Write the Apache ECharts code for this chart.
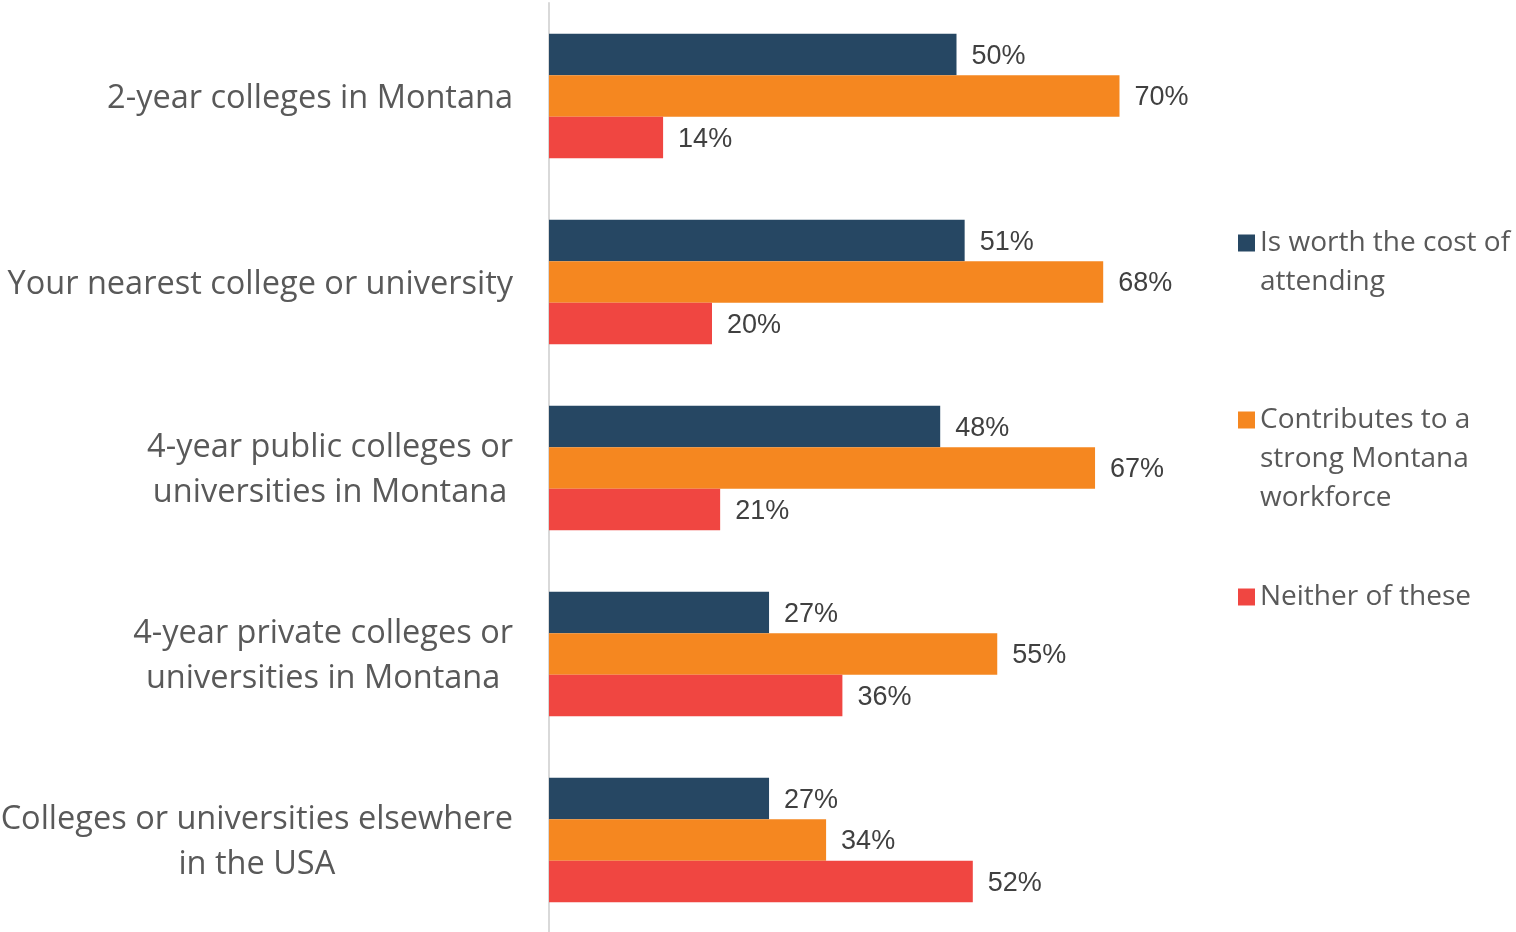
<!DOCTYPE html>
<html>
<head>
<meta charset="utf-8">
<script src="https://cdn.jsdelivr.net/npm/echarts@6/dist/echarts.min.js"></script>
<style>
  html, body { margin: 0; padding: 0; background: #ffffff; }
  #chart { width: 1516px; height: 932px; }
</style>
</head>
<body>
<div id="chart"></div>
<script>
// Institution types (top to bottom)
const categories = [
  '2-year colleges in Montana',
  'Your nearest college or university',
  '4-year public colleges or\nuniversities in Montana',
  '4-year private colleges or\nuniversities in Montana',
  'Colleges or universities elsewhere\nin the USA'
];

// Survey answers, percent of respondents
const worthCost = [50, 51, 48, 27, 27];
const strongWorkforce = [70, 68, 67, 55, 34];
const neither = [14, 20, 21, 36, 52];

const seriesNames = [
  'Is worth the cost of attending',
  'Contributes to a strong Montana workforce',
  'Neither of these'
];
// Legend text broken over lines
const legendLines = [
  ['Is worth the cost of', 'attending'],
  ['Contributes to a', 'strong Montana', 'workforce'],
  ['Neither of these']
];

const colors = ['#264763', '#F58720', '#F04641'];
const labelFont = '"Open Sans", "Noto Sans", sans-serif';
const valueFont = '"Liberation Sans", Arial, sans-serif';

const chart = echarts.init(document.getElementById('chart'), null, { renderer: 'canvas' });

const legendLineHeight = 39;
const legendFirstLineY = [243, 420, 597];

// One legend per entry; blank lines above the text keep the swatch
// level with the first line of a wrapped entry.
function makeLegend(i) {
  const n = legendLines[i].length;
  return {
    show: true,
    data: [seriesNames[i]],
    left: 1238,
    top: legendFirstLineY[i] - (n - 1) * legendLineHeight - legendLineHeight / 2,
    orient: 'vertical',
    icon: 'rect',
    itemWidth: 17,
    itemHeight: 17,
    itemGap: 0,
    padding: 0,
    selectedMode: false,
    formatter: () => '\n'.repeat(n - 1) + legendLines[i].join('\n'),
    textStyle: {
      fontFamily: labelFont,
      fontSize: 28,
      lineHeight: legendLineHeight,
      color: '#595959'
    }
  };
}

function makeSeries(i, values) {
  return {
    name: seriesNames[i],
    type: 'bar',
    data: values,
    barGap: '0%',
    barCategoryGap: '33%',
    itemStyle: { color: colors[i] },
    label: {
      show: true,
      position: 'right',
      distance: 15,
      offset: [0, 2],
      formatter: p => p.value + '%',
      fontFamily: valueFont,
      fontSize: 27,
      color: '#404040'
    },
    emphasis: { disabled: true }
  };
}

chart.setOption({
  animation: false,
  backgroundColor: '#ffffff',
  grid: {
    left: 549, top: 3, width: 652, height: 930,
    containLabel: false,
    outerBoundsMode: 'none'
  },
  legend: [makeLegend(0), makeLegend(1), makeLegend(2)],
  xAxis: {
    type: 'value',
    min: 0,
    max: 80,
    show: false
  },
  yAxis: {
    type: 'category',
    data: categories,
    inverse: true,
    axisLine: { show: true, lineStyle: { color: '#d9d9d9', width: 2 } },
    axisTick: { show: false },
    splitLine: { show: false },
    axisLabel: {
      margin: 36,
      padding: [5, 0, 0, 0],
      formatter: v => v.split('\n').map(s => '{c|' + s + '}').join('\n'),
      rich: {
        c: {
          align: 'center',
          fontFamily: labelFont,
          fontSize: 32.5,
          lineHeight: 45,
          color: '#595959'
        }
      }
    }
  },
  series: [
    makeSeries(0, worthCost),
    makeSeries(1, strongWorkforce),
    makeSeries(2, neither)
  ]
});
</script>
</body>
</html>
